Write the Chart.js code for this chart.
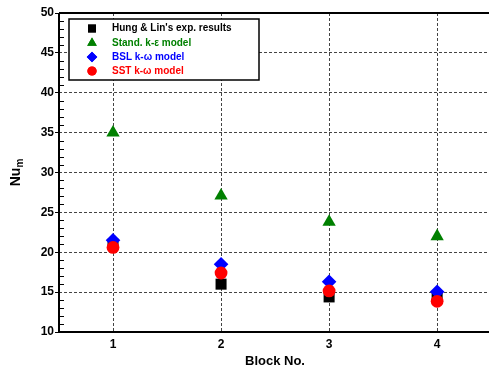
<!DOCTYPE html>
<html>
<head>
<meta charset="utf-8">
<script src="https://cdn.jsdelivr.net/npm/chart.js@4/dist/chart.umd.min.js"></script>
<style>
  html, body { margin: 0; padding: 0; background: #fff; overflow: hidden; }
  #wrap { width: 489px; height: 369px; }
</style>
</head>
<body>
<div id="wrap"><canvas id="nuChart" width="489" height="369"></canvas></div>
<script>
  /* ───────────────── DATA ───────────────── */
  const blocks = [1, 2, 3, 4];
  const expHungLin = [21.0, 16.0, 14.4, 14.4];
  const standKe = [35.0, 27.1, 23.8, 22.0];
  const bslKw = [21.5, 18.5, 16.3, 15.05];
  const sstKw = [20.6, 17.4, 15.15, 13.85];
  const yTicks = [10, 15, 20, 25, 30, 35, 40, 45, 50];

  const series = [
    { label: "Hung & Lin's exp. results", values: expHungLin, color: "#000000", style: "rect", r: 7.8 },
    { label: "Stand. k-\u03b5 model", values: standKe, color: "#008000", style: "triangle", r: 7.7 },
    { label: "BSL k-\u03c9 model", values: bslKw, color: "#0000ff", style: "rectRot", r: 7.3 },
    { label: "SST k-\u03c9 model", values: sstKw, color: "#ff0000", style: "circle", r: 6.4 }
  ];

  const FONT = "'Liberation Sans', Arial, sans-serif";

  /* ───────────────── FRAME, MINOR TICKS, TITLES, LEGEND ───────────────── */
  const framePlugin = {
    id: "frame",
    afterDraw(chart) {
      const { ctx, chartArea: a, scales: { y } } = chart;
      ctx.save();

      // solid axes + top line
      ctx.strokeStyle = "#000";
      ctx.lineWidth = 2;
      ctx.beginPath();
      ctx.moveTo(a.left, a.top);
      ctx.lineTo(a.left, a.bottom);
      ctx.lineTo(a.right, a.bottom);
      ctx.moveTo(a.left, a.top);
      ctx.lineTo(a.right, a.top);
      ctx.stroke();

      // minor ticks on the y axis (inside)
      ctx.lineWidth = 1;
      ctx.beginPath();
      for (let v = y.min + 1; v < y.max; v++) {
        if (v % 5 === 0) continue;
        const py = Math.round(y.getPixelForValue(v)) + 0.5;
        ctx.moveTo(a.left, py);
        ctx.lineTo(a.left + 5, py);
      }
      ctx.stroke();

      // axis titles
      ctx.fillStyle = "#000";
      ctx.textAlign = "center";
      ctx.textBaseline = "middle";
      ctx.font = "bold 13px " + FONT;
      ctx.fillText("Block No.", (a.left + a.right) / 2 + 1, 361);

      ctx.save();
      ctx.translate(16, (a.top + a.bottom) / 2);
      ctx.rotate(-Math.PI / 2);
      ctx.font = "bold 14px " + FONT;
      const nuW = ctx.measureText("Nu").width;
      ctx.font = "bold 10px " + FONT;
      const mW = ctx.measureText("m").width;
      const start = -(nuW + mW) / 2;
      ctx.textAlign = "left";
      ctx.font = "bold 14px " + FONT;
      ctx.fillText("Nu", start, 0);
      ctx.font = "bold 10px " + FONT;
      ctx.fillText("m", start + nuW, 4);
      ctx.restore();

      // legend box
      const bx = 69, by = 19, bw = 190, bh = 61;
      ctx.fillStyle = "#fff";
      ctx.fillRect(bx, by, bw, bh);
      ctx.strokeStyle = "#000";
      ctx.lineWidth = 1.5;
      ctx.strokeRect(bx, by, bw, bh);
      ctx.font = "bold 10px " + FONT;
      ctx.textAlign = "left";
      const rows = [28.5, 43, 57, 71];
      series.forEach((s, i) => {
        ctx.fillStyle = s.color;
        Chart.helpers.drawPoint(ctx, {
          pointStyle: s.style,
          radius: s.r * 0.72,
          rotation: 0,
          borderWidth: 0
        }, 92, rows[i]);
        ctx.fill();
        ctx.fillText(s.label, 112, rows[i]);
      });

      ctx.restore();
    }
  };

  /* ───────────────── CHART ───────────────── */
  const ctx = document.getElementById("nuChart").getContext("2d");
  new Chart(ctx, {
    type: "scatter",
    data: {
      // later series sit on top: exp. squares at the bottom, SST circles last
      datasets: series.map((s, idx) => ({
        label: s.label,
        order: series.length - 1 - idx,
        data: blocks.map((b, i) => ({ x: b, y: s.values[i] })),
        pointStyle: s.style,
        pointRadius: s.r,
        pointHoverRadius: s.r,
        backgroundColor: s.color,
        borderColor: s.color,
        borderWidth: 0
      }))
    },
    options: {
      responsive: false,
      animation: false,
      events: [],
      layout: { autoPadding: false, padding: { top: 13, right: 0, left: 0, bottom: 0 } },
      plugins: { legend: { display: false }, tooltip: { enabled: false } },
      scales: {
        x: {
          type: "linear",
          min: 0.5,
          max: 4.48,
          afterBuildTicks: scale => { scale.ticks = blocks.map(v => ({ value: v })); },
          afterFit: scale => { scale.height = 37; },
          grid: { color: "#444", lineWidth: 1, drawTicks: false },
          border: { display: false, dash: [3, 2] },
          ticks: {
            padding: 5,
            color: "#000",
            font: { family: FONT, size: 12, weight: "bold" },
            callback: v => String(v)
          }
        },
        y: {
          min: 10,
          max: 50,
          afterBuildTicks: scale => { scale.ticks = yTicks.map(v => ({ value: v })); },
          afterFit: scale => { scale.width = 59; },
          grid: {
            color: c => (c.tick && (c.tick.value === 10 || c.tick.value === 50)) ? "rgba(0,0,0,0)" : "#444",
            lineWidth: 1,
            drawTicks: true,
            tickLength: 4,
            tickColor: "#000",
            tickBorderDash: []
          },
          border: { display: false, dash: [3, 2] },
          ticks: {
            padding: 1,
            color: "#000",
            font: { family: FONT, size: 12, weight: "bold" },
            callback: v => String(v)
          }
        }
      }
    },
    plugins: [framePlugin]
  });
</script>
</body>
</html>
